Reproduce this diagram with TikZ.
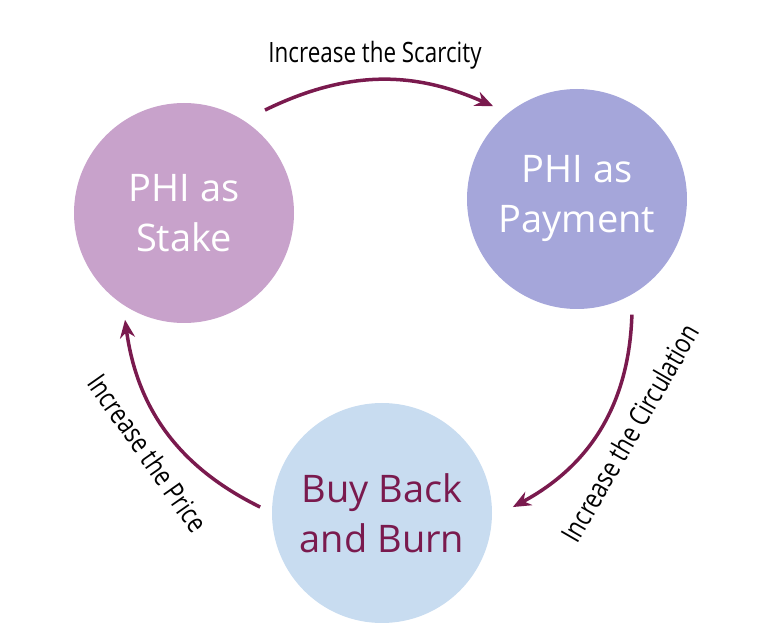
\documentclass[tikz,border=0pt]{standalone}
\usepackage{fontspec}
\setmainfont{Open Sans}
\newfontfamily\labelfont[FakeStretch=0.8]{Open Sans}
\usetikzlibrary{arrows.meta}
\definecolor{stakecol}{RGB}{200,162,203}
\definecolor{paycol}{RGB}{165,166,218}
\definecolor{burncol}{RGB}{200,220,240}
\definecolor{flowcol}{RGB}{122,26,78}

\begin{document}
\begin{tikzpicture}[x=1pt, y=1pt,
    token/.style={circle, minimum size=220pt, inner sep=0pt, align=center, font=\fontsize{38}{50}\selectfont},
    flow/.style={draw=flowcol, line width=3.5pt, -{Stealth[length=18pt, width=15pt]}},
    flowlabel/.style={font=\labelfont\fontsize{28}{30}\selectfont, inner sep=0pt}]
			\useasboundingbox (0,0) rectangle (764,635);
			\node[token, fill=stakecol, text=white] (stake) at (184,422) {PHI as\\Stake};
			\node[token, fill=paycol, text=white] (pay) at (577,436) {PHI as\\Payment};
			\node[token, fill=burncol, text=flowcol] (burn) at (382,122) {Buy Back\\and Burn};
			
			\coordinate (scar-a) at ([shift={(51.8:131)}]stake.center);
			\coordinate (scar-b) at ([shift={(132.1:125)}]pay.center);
			\coordinate (circ-a) at ([shift={(-64.6:128)}]pay.center);
			\coordinate (circ-b) at ([shift={(2.6:131)}]burn.center);
			\coordinate (price-a) at ([shift={(177.2:122)}]burn.center);
			\coordinate (price-b) at ([shift={(241.1:122)}]stake.center);
			
			\path[flow] (scar-a) to[bend left=25] (scar-b);
			\path[flow] (circ-a) to[bend left=30] (circ-b);
			\path[flow] (price-a) to[bend left=28] (price-b);
			
			\node[flowlabel] (scarcity) at (375,580) {Increase the Scarcity};
			\node[flowlabel, rotate=60] (circulation) at (630,202) {Increase the Circulation};
			\node[flowlabel, rotate=-55] (price) at (148,182) {Increase the Price};
			\end{tikzpicture}
\end{document}
